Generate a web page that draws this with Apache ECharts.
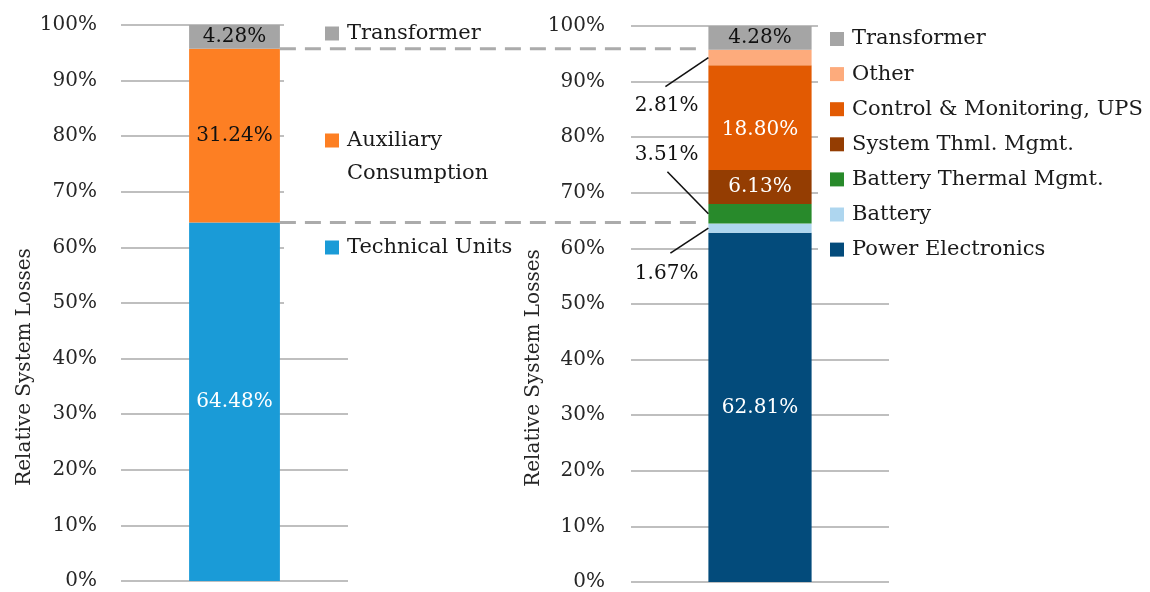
<!DOCTYPE html>
<html><head><meta charset="utf-8">
<script src="https://cdn.jsdelivr.net/npm/echarts@6/dist/echarts.min.js"></script>
<style>html,body{margin:0;padding:0;background:#fff}#c{width:1150px;height:592px}</style>
</head><body><div id="c"></div>
<script>
// ---------- data ----------
const categories = ['System'];
const yTickMin = 0, yTickMax = 100, yTickStep = 10;
const axisTitle = 'Relative System Losses';

const leftNames = ['Technical Units', 'Auxiliary Consumption', 'Transformer'];
const leftValues = [64.48, 31.24, 4.28];

const rightNames = ['Power Electronics', 'Battery', 'Battery Thermal Mgmt.', 'System Thml. Mgmt.', 'Control & Monitoring, UPS', 'Other', 'Transformer'];
const rightValues = [62.81, 1.67, 3.51, 6.13, 18.80, 2.81, 4.28];

// ---------- style ----------
const FONT = "'DejaVu Serif', serif";
const leftColors = ['#1a9bd7', '#fd7f23', '#a5a5a5'];
const leftLabelColors = ['#ffffff', '#111111', '#111111'];
const rightColors = ['#034b7b', '#aed6ef', '#288a2b', '#943d02', '#e25a02', '#fdab7c', '#a5a5a5'];
const rightLabelColors = ['#ffffff', '#111111', '#111111', '#ffffff', '#ffffff', '#111111', '#111111'];
// outside labels: label dy offset and leader start offset (relative to bar left edge / segment middle)
const outside = {
  1: {dy: 46, lx: -38, ly: 25},
  2: {dy: -59, lx: -41, ly: -42},
  5: {dy: 48, lx: -43, ly: 29}
};
const insideDy = {4: 12};

const GL = {left: 121, right: 348, top: 25, bottom: 581};
const GR = {left: 631, right: 889, top: 26, bottom: 584};
const W = 1150, H = 592;

const chart = echarts.init(document.getElementById('c'), null, {renderer: 'canvas'});

function yAxis(gi, gap, margin) {
  return {
    type: 'value', gridIndex: gi, min: yTickMin, max: yTickMax, interval: yTickStep,
    axisLabel: {formatter: '{value}%', fontFamily: FONT, fontSize: 20, color: '#262626', margin: margin},
    axisLine: {show: false}, axisTick: {show: false},
    splitLine: {lineStyle: {color: '#bfbfbf', width: 2}},
    name: axisTitle, nameLocation: 'middle', nameRotate: 90, nameGap: gap,
    nameTextStyle: {fontFamily: FONT, fontSize: 20, color: '#262626', padding: [0, 128, 0, 0]}
  };
}
function xAxis(gi) {
  return {type: 'category', gridIndex: gi, data: categories,
    axisLine: {show: false}, axisTick: {show: false}, axisLabel: {show: false}, splitLine: {show: false}};
}
const fmt = p => p.value.toFixed(2) + '%';

const series = [];
leftNames.forEach((n, i) => series.push({
  name: n, type: 'bar', stack: 'L', xAxisIndex: 0, yAxisIndex: 0, barWidth: '40%',
  data: [leftValues[i]], itemStyle: {color: leftColors[i]},
  label: {show: true, position: 'inside', formatter: fmt, fontFamily: FONT, fontSize: 20, color: leftLabelColors[i]}
}));
rightNames.forEach((n, i) => {
  const o = outside[i];
  const s = {
    name: n, type: 'bar', stack: 'R', xAxisIndex: 1, yAxisIndex: 1, barWidth: '40%',
    data: [rightValues[i]], itemStyle: {color: rightColors[i]},
    label: {show: true, position: o ? 'left' : 'inside', distance: 10, formatter: fmt,
      fontFamily: FONT, fontSize: 20, color: rightLabelColors[i]}
  };
  if (o) s.labelLayout = {dy: o.dy};
  if (insideDy[i] !== undefined) s.labelLayout = {dy: insideDy[i]};
  series.push(s);
});

const legendText = {fontFamily: FONT, fontSize: 21, color: '#1a1a1a', padding: [0, 0, 0, 3]};
const option = {
  animation: false,
  backgroundColor: '#ffffff',
  grid: [
    {left: GL.left, right: W - GL.right, top: GL.top, bottom: H - GL.bottom},
    {left: GR.left, right: W - GR.right, top: GR.top, bottom: H - GR.bottom}
  ],
  xAxis: [xAxis(0), xAxis(1)],
  yAxis: [yAxis(0, 86, 24), yAxis(1, 69, 26)],
  legend: [
    {orient: 'vertical', left: 284, top: 14, padding: [3, 2, 45, 41], itemGap: 41,
     itemWidth: 14, itemHeight: 14, icon: 'rect', backgroundColor: '#ffffff', selectedMode: false,
     data: ['Transformer', 'Auxiliary Consumption', 'Technical Units'],
     formatter: n => n === 'Auxiliary Consumption' ? '\nAuxiliary\nConsumption' : n,
     textStyle: Object.assign({lineHeight: 33}, legendText)},
    {orient: 'vertical', left: 818, top: 24, padding: [4, 5, 10, 12], itemGap: 13.1,
     itemWidth: 14, itemHeight: 14, icon: 'rect', backgroundColor: '#ffffff', selectedMode: false,
     data: rightNames.slice().reverse(),
     textStyle: Object.assign({lineHeight: 22}, legendText)}
  ],
  series: series
};
chart.setOption(option);

// ---------- connectors & leader lines, positioned through the axes ----------
const pL = v => chart.convertToPixel({xAxisIndex: 0, yAxisIndex: 0}, [categories[0], v]);
const pR = v => chart.convertToPixel({xAxisIndex: 1, yAxisIndex: 1}, [categories[0], v]);
const lBarRight = pL(0)[0] + 0.4 * (GL.right - GL.left) / 2;
const rBarLeft = pR(0)[0] - 0.4 * (GR.right - GR.left) / 2;
const graphics = [];
let cumL = 0;
leftValues.slice(0, -1).forEach(v => {
  cumL += v;
  const y = pL(cumL)[1];
  graphics.push({type: 'line', z: 50, shape: {x1: lBarRight, y1: y, x2: rBarLeft - 10, y2: y},
    style: {stroke: '#ababab', lineWidth: 3, lineDash: [16, 9]}});
});
let cumR = 0;
rightValues.forEach((v, i) => {
  const mid = cumR + v / 2;
  cumR += v;
  const o = outside[i];
  if (!o) return;
  const y = pR(mid)[1];
  graphics.push({type: 'line', z: 50, shape: {x1: rBarLeft + o.lx, y1: y + o.ly, x2: rBarLeft, y2: y},
    style: {stroke: '#111111', lineWidth: 1.6}});
});
chart.setOption({graphic: graphics});
</script>
</body></html>
